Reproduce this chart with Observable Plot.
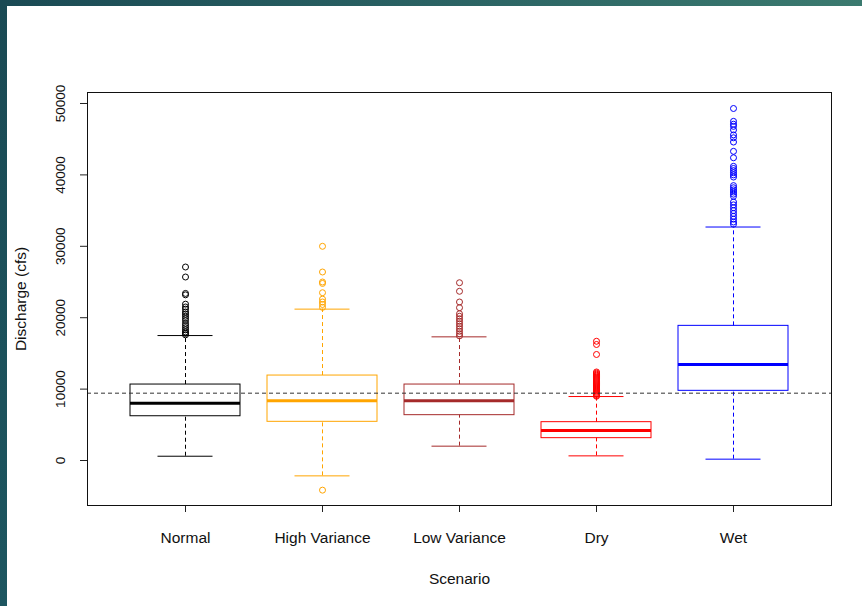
<!DOCTYPE html>
<html>
<head>
<meta charset="utf-8">
<script src="https://cdn.jsdelivr.net/npm/d3@7"></script>
<script src="https://cdn.jsdelivr.net/npm/@observablehq/plot@0.6"></script>
<style>
  html, body { margin: 0; padding: 0; background: #ffffff; }
  #wrap { position: relative; width: 862px; height: 606px; overflow: hidden; background: #ffffff; }
  #wrap svg { position: absolute; left: 0; top: 0; }
  #topbar { position: absolute; left: 0; top: 0; width: 862px; height: 6px;
            background: linear-gradient(to right, #1a4a54 0%, #2a6263 50%, #3b7a6f 100%); z-index: 2; }
  #leftbar { position: absolute; left: 0; top: 0; width: 7px; height: 606px;
             background: linear-gradient(to bottom, #1a4a54 0%, #1d5660 100%); z-index: 3; }
</style>
</head>
<body>
<div id="wrap"><div id="topbar"></div><div id="leftbar"></div></div>
<script>
// ---- data ----
const categories = ["Normal", "High Variance", "Low Variance", "Dry", "Wet"];
const colors = ["black", "orange", "brown", "red", "blue"];
const lowerWhisker = [600, -2150, 2010, 650, 190];
const q1 = [6200, 5420, 6350, 3130, 9760];
const median = [8030, 8360, 8360, 4200, 13450];
const q3 = [10640, 11900, 10640, 5370, 18860];
const upperWhisker = [17500, 21200, 17320, 8960, 32700];

const outliersNormal = [27100, 25700, 23400, 23200, 21900, 21500, 21200, 20800, 20500, 20200,
  19900, 19600, 19200, 18900, 18600, 18300, 18000, 17800, 17600];
const outliersHighVariance = [30000, 26400, 25000, 24800, 23500, 22600, 22200, 21850, 21450, -4150];
const outliersLowVariance = [24900, 23700, 22200, 21400, 20550, 20200, 19850, 19500, 19150, 18800,
  18450, 18100, 17750, 17450];
const outliersDry = [16700, 16250, 14850, 12400, 12250, 12100, 11950, 11800, 11650, 11500, 11350,
  11200, 11050, 10900, 10750, 10600, 10450, 10300, 10150, 10000, 9850, 9700, 9550, 9400, 9250, 9100, 9000];
const outliersWet = [49300, 47500, 47100, 46800, 46300, 45600, 45200, 44600, 43300, 42400, 41200,
  40900, 40600, 40300, 40000, 39700, 38500, 38200, 37900, 37600, 37300, 37000, 36200, 35800,
  35400, 35000, 34600, 34200, 33800, 33400, 33100];

const referenceLine = [9430];
const yTicks = [0, 10000, 20000, 30000, 40000, 50000];
const xTitle = "Scenario";
const yTitle = "Discharge (cfs)";

// ---- tables built from the arrays ----
const stats = categories.map((c, i) => ({
  cat: c, lo: lowerWhisker[i], q1: q1[i], med: median[i], q3: q3[i], hi: upperWhisker[i]
}));
const outlierLists = [outliersNormal, outliersHighVariance, outliersLowVariance, outliersDry, outliersWet];
const outliers = outlierLists.flatMap((list, i) => list.map(v => ({cat: categories[i], v})));

const font = "'Liberation Sans', Arial, sans-serif";
const dash = "4,3";

const chart = Plot.plot({
  width: 862,
  height: 606,
  marginLeft: 87,
  marginRight: 31,
  marginTop: 92,
  marginBottom: 101,
  style: {fontFamily: font, background: "transparent", color: "black"},
  x: {type: "band", domain: categories, paddingInner: 0.2, paddingOuter: 0.3, label: null},
  y: {domain: [-6300, 51540], label: null},
  color: {domain: categories, range: colors},
  marks: [
    Plot.axisX({tickSize: 7, tickFormat: () => "", label: null, stroke: "#222"}),
    Plot.axisY({ticks: yTicks, tickSize: 7, tickFormat: () => "", label: null, stroke: "#222"}),
    // whiskers
    Plot.ruleX(stats, {x: "cat", y1: "q3", y2: "hi", stroke: "cat", strokeDasharray: dash}),
    Plot.ruleX(stats, {x: "cat", y1: "lo", y2: "q1", stroke: "cat", strokeDasharray: dash}),
    // whisker caps
    Plot.tickY(stats, {x: "cat", y: "hi", stroke: "cat", insetLeft: 27.5, insetRight: 27.5}),
    Plot.tickY(stats, {x: "cat", y: "lo", stroke: "cat", insetLeft: 27.5, insetRight: 27.5}),
    // boxes
    Plot.barY(stats, {x: "cat", y1: "q1", y2: "q3", fill: "none", stroke: "cat", strokeWidth: 1}),
    // medians
    Plot.tickY(stats, {x: "cat", y: "med", stroke: "cat", strokeWidth: 3}),
    // outliers
    Plot.dot(outliers, {x: "cat", y: "v", stroke: "cat", fill: "none", r: 3, strokeWidth: 1}),
    // reference line
    Plot.ruleY(referenceLine, {stroke: "#333", strokeDasharray: dash}),
    Plot.frame({stroke: "#111"}),
    // tick labels
    Plot.text(categories, {x: d => d, frameAnchor: "bottom", dy: 37, fontSize: 15.5, fill: "#111",
      textAnchor: "middle", fontFamily: font}),
    Plot.text(yTicks, {y: d => d, frameAnchor: "left", dx: -27, rotate: -90, fontSize: 13.5, fill: "#111",
      textAnchor: "middle", text: d => String(d), fontFamily: font}),
    // axis titles
    Plot.text([xTitle], {frameAnchor: "bottom", dy: 78, fontSize: 15.5, fill: "#111", textAnchor: "middle",
      fontFamily: font}),
    Plot.text([yTitle], {frameAnchor: "left", dx: -66, rotate: -90, fontSize: 15.5, fill: "#111",
      textAnchor: "middle", fontFamily: font})
  ]
});
document.getElementById("wrap").appendChild(chart);
</script>
</body>
</html>
